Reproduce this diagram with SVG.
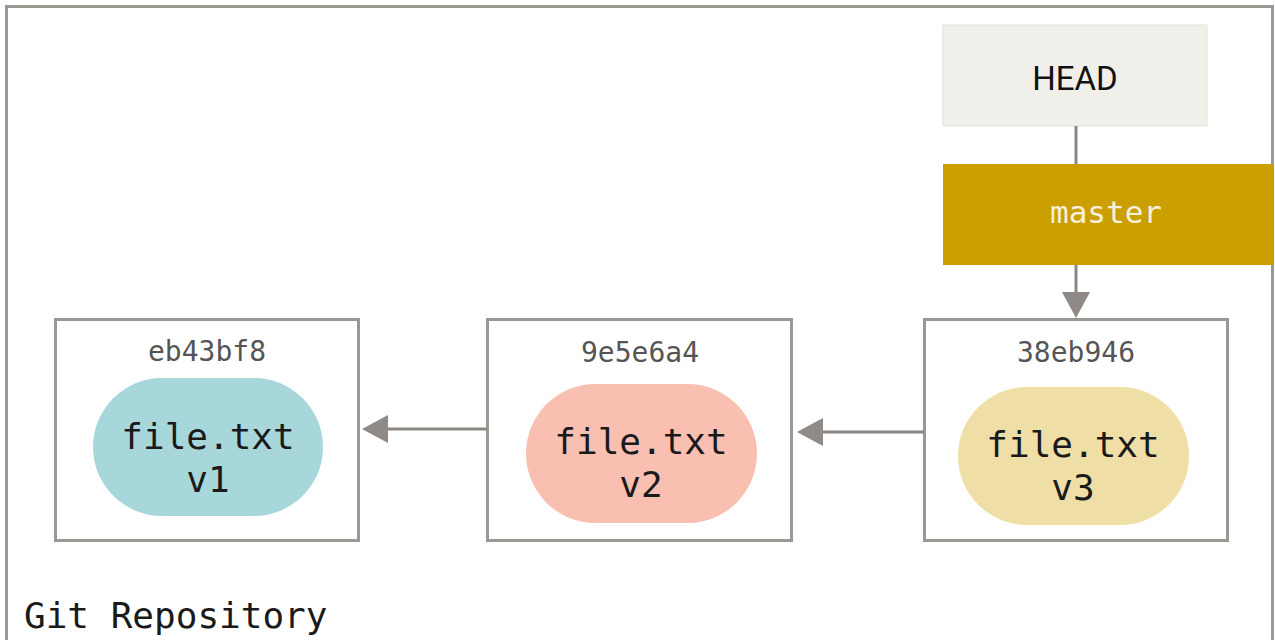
<svg xmlns="http://www.w3.org/2000/svg" width="1275" height="640" viewBox="0 0 1275 640">
<style>
.frame{fill:#fff;stroke:#9b9894;stroke-width:3}
.commit{fill:#fff;stroke:#9b9894;stroke-width:3}
.hash{font-family:"DejaVu Sans Mono","Liberation Mono",monospace;font-size:28px;fill:#555;text-anchor:middle}
.file{font-family:"DejaVu Sans Mono","Liberation Mono",monospace;font-size:36px;fill:#1a1a1a;text-anchor:middle}
.conn{stroke:#8c8782;stroke-width:3;fill:none}
</style>
<defs>
<marker id="arr" markerWidth="26" markerHeight="28" refX="0" refY="14" orient="auto" markerUnits="userSpaceOnUse" viewBox="0 0 26 28">
<path d="M0,0 L26,14 L0,28 z" fill="#8f8a85"/>
</marker>
</defs>
<rect class="frame" x="6.5" y="6.5" width="1266" height="660"/>
<g id="head">
<rect x="943" y="25" width="264" height="101" fill="#f0efea" stroke="#e2e0da" stroke-width="1"/>
<text x="1075" y="90" font-family="Roboto,'Liberation Sans',sans-serif" font-size="33" fill="#111" text-anchor="middle">HEAD</text>
</g>
<g id="master">
<rect x="943" y="164" width="330" height="101" fill="#cc9f00"/>
<text x="1106" y="223" font-family="'DejaVu Sans Mono','Liberation Mono',monospace" font-size="31" fill="#f7f0dc" text-anchor="middle">master</text>
</g>
<g id="c1">
<rect class="commit" x="55.5" y="319.5" width="303" height="221"/>
<text class="hash" x="207" y="361">eb43bf8</text>
<rect x="93" y="378" width="230" height="138" rx="69" fill="#a8d7db"/>
<text class="file" x="208" y="449">file.txt</text>
<text class="file" x="208" y="492">v1</text>
</g>
<g id="c2">
<rect class="commit" x="487.5" y="319.5" width="304" height="221"/>
<text class="hash" x="640" y="362">9e5e6a4</text>
<rect x="526" y="384" width="231" height="139" rx="69.5" fill="#f9bfb1"/>
<text class="file" x="641" y="454">file.txt</text>
<text class="file" x="641" y="497">v2</text>
</g>
<g id="c3">
<rect class="commit" x="924.5" y="319.5" width="303" height="221"/>
<text class="hash" x="1076" y="362">38eb946</text>
<rect x="958" y="387" width="231" height="138" rx="69" fill="#efdea5"/>
<text class="file" x="1073" y="457">file.txt</text>
<text class="file" x="1073" y="500">v3</text>
</g>
<text x="24" y="628" font-family="'DejaVu Sans Mono','Liberation Mono',monospace" font-size="36" fill="#1a1a1a">Git Repository</text>
<g id="connectors">
<line class="conn" x1="1076" y1="126" x2="1076" y2="164"/>
<line class="conn" x1="1076" y1="265" x2="1076" y2="292" marker-end="url(#arr)"/>
<line class="conn" x1="924" y1="432" x2="823" y2="432" marker-end="url(#arr)"/>
<line class="conn" x1="487" y1="429" x2="388" y2="429" marker-end="url(#arr)"/>
</g>
</svg>
